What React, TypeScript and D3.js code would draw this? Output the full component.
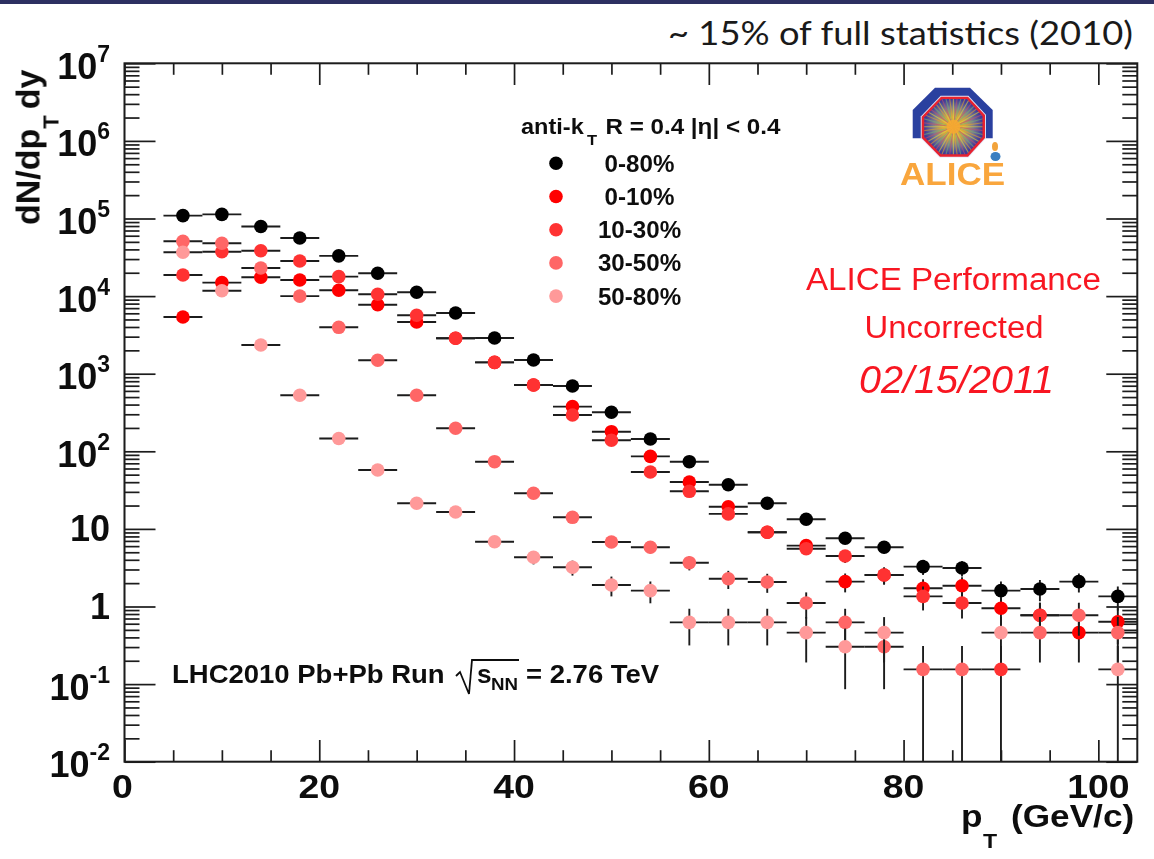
import React, { useEffect, useRef } from "react";
import * as d3 from "d3";

// bin centres in GeV/c, bins are 4 wide
const ptBins = [6, 10, 14, 18, 22, 26, 30, 34, 38, 42, 46, 50, 54, 58, 62, 66, 70, 74, 78, 82, 86, 90, 94, 98, 102];
const binHalfWidth = 2;

const centrality = ["0-80%", "0-10%", "10-30%", "30-50%", "50-80%"];
const seriesColors = ["#000000", "#ff0000", "#ff3333", "#ff6666", "#ff9999"];

const yields0080 = [109000, 113000, 79000, 56000, 33000, 19700, 11200, 6050, 2885, 1500, 694, 318, 144, 73.5, 37, 21.4, 13.3, 7.57, 5.79, 3.26, 3.13, 1.6, 1.68, 2.09, 1.35];
const yields0010 = [5380, 14900, 17500, 16100, 11880, 7750, 4640, 2860, 1400, 715, 376, 179, 86, 40.2, 19.3, 9.04, 6.08, 2.09, 2.55, 1.72, 1.85, 0.95, 0.77, 0.46, 0.637];
const yields1030 = [18700, 37300, 38400, 28300, 17800, 10550, 5660, 2860, 1400, 715, 294, 139, 54, 30.5, 15.6, 9.04, 5.56, 4.47, 2.55, 1.35, 1.11, 0.155, 0.77, null, null];
const yields3050 = [50800, 47900, 23000, 10000, 3960, 1490, 527, 198, 73.5, 28.8, 14.1, 6.78, 5.79, 3.67, 2.28, 2.07, 1.11, 0.625, 0.303, 0.155, 0.155, null, 0.46, 0.77, 0.46];
const yields5080 = [36700, 11700, 2340, 527, 146, 57.4, 21.4, 16.5, 6.84, 4.31, 3.2, 1.89, 1.6, 0.625, 0.625, 0.625, 0.46, 0.303, 0.46, null, null, 0.46, null, null, 0.155];

// vertical error bars, only the ones that stick out of the marker
const errors0080 = [0, 0, 0, 0, 0, 0, 0, 0, 0, 0, 0, 0, 0, 3.4, 2.4, 1.8, 1.44, 1.08, 0.95, 0.71, 0.7, 0.5, 0.51, 0.57, 0.46];
const errors0010 = [0, 0, 0, 0, 0, 0, 0, 0, 0, 0, 0, 0, 0, 2.5, 1.7, 1.18, 0.97, 0.57, 0.63, 0.52, 0.54, 0.38, 0.35, 0.27, 0.31];
const errors1030 = [0, 0, 0, 0, 0, 0, 0, 0, 0, 0, 0, 0, 0, 2.2, 1.55, 1.18, 0.93, 0.83, 0.63, 0.46, 0.41, 0.155, 0.35, 0, 0];
const errors3050 = [0, 0, 0, 0, 0, 0, 0, 0, 0, 0, 1.5, 1, 0.95, 0.75, 0.6, 0.57, 0.41, 0.31, 0.217, 0.155, 0.155, 0, 0.27, 0.35, 0.27];
const errors5080 = [0, 0, 0, 0, 0, 0, 0, 0, 0, 0.82, 0.7, 0.54, 0.5, 0.31, 0.31, 0.31, 0.27, 0.217, 0.27, 0, 0, 0.27, 0, 0, 0.155];

const allYields = [yields0080, yields0010, yields1030, yields3050, yields5080];
const allErrors = [errors0080, errors0010, errors1030, errors3050, errors5080];

const yExponents = [-2, -1, 0, 1, 2, 3, 4, 5, 6, 7];
const xMajor = [0, 20, 40, 60, 80, 100];
const xMinor = [5, 10, 15, 25, 30, 35, 45, 50, 55, 65, 70, 75, 85, 90, 95];

const width = 1154;
const height = 859;
const frame = { left: 124.5, right: 1137.3, top: 63.3, bottom: 761.7 };
const ink = "#1c1c1c";
const helv = "'Liberation Sans', Arial, sans-serif";

export default function App() {
  const ref = useRef<SVGSVGElement | null>(null);

  useEffect(() => {
    const svg = d3.select(ref.current);
    svg.selectAll("*").remove();

    const defs = svg.append("defs");
    defs.append("filter").attr("id", "soft")
      .attr("filterUnits", "userSpaceOnUse").attr("x", 0).attr("y", 0).attr("width", width).attr("height", height)
      .append("feGaussianBlur").attr("stdDeviation", 0.5);
    defs.append("clipPath").attr("id", "plotArea").append("rect")
      .attr("x", frame.left).attr("y", frame.top)
      .attr("width", frame.right - frame.left).attr("height", frame.bottom - frame.top);

    // slide header
    svg.append("rect").attr("width", width).attr("height", 4).attr("fill", "#2d3061");
    svg.append("text").attr("x", 1133).attr("y", 45).attr("text-anchor", "end")
      .attr("font-family", "Lato, sans-serif").attr("font-size", 33).attr("fill", "#1a1a1a")
      .attr("textLength", 465).attr("lengthAdjust", "spacingAndGlyphs")
      .text("~ 15% of full statistics (2010)");

    const g = svg.append("g").attr("filter", "url(#soft)");

    const x = d3.scaleLinear().domain([0, 104]).range([frame.left, frame.right]);
    const y = d3.scaleLog().domain([1e-2, 1e7]).range([frame.bottom, frame.top]);

    const yMajor = yExponents.map((e) => Math.pow(10, e));
    const yMinor = yExponents.slice(0, -1).flatMap((e) => d3.range(2, 10).map((m) => m * Math.pow(10, e)));

    // ticks on all four sides, drawn inwards
    const drawAxis = (axis: any, tx: number, ty: number) => {
      const a = g.append("g").attr("transform", `translate(${tx},${ty})`).call(axis);
      a.select(".domain").remove();
      a.selectAll("line").attr("stroke", ink).attr("stroke-width", 1.7);
      a.selectAll("text").remove();
    };
    drawAxis(d3.axisLeft(y).tickValues(yMajor).tickSize(-31), frame.left, 0);
    drawAxis(d3.axisLeft(y).tickValues(yMinor).tickSize(-15), frame.left, 0);
    drawAxis(d3.axisRight(y).tickValues(yMajor).tickSize(-31), frame.right, 0);
    drawAxis(d3.axisRight(y).tickValues(yMinor).tickSize(-15), frame.right, 0);
    drawAxis(d3.axisBottom(x).tickValues(xMajor).tickSize(-21.7), 0, frame.bottom);
    drawAxis(d3.axisBottom(x).tickValues(xMinor).tickSize(-11.5), 0, frame.bottom);
    drawAxis(d3.axisTop(x).tickValues(xMajor).tickSize(-21.7), 0, frame.top);
    drawAxis(d3.axisTop(x).tickValues(xMinor).tickSize(-11.5), 0, frame.top);

    g.append("rect").attr("x", frame.left).attr("y", frame.top)
      .attr("width", frame.right - frame.left).attr("height", frame.bottom - frame.top)
      .attr("fill", "none").attr("stroke", ink).attr("stroke-width", 2);

    // the picture is a bit wider than tall, so most text needs a horizontal stretch
    const boldText = (px: number, py: number, size: number, anchor = "start", sx = 1) =>
      g.append("text").attr("transform", `translate(${px},${py}) scale(${sx},1)`).attr("text-anchor", anchor)
        .attr("font-family", helv).attr("font-weight", "bold").attr("font-size", size).attr("fill", "#111");

    // tick labels
    xMajor.forEach((v) => {
      boldText(x(v) - (v === 0 ? 2 : 0), 798, 34, "middle", 1.1).text(v);
    });
    yExponents.forEach((e) => {
      const py = y(Math.pow(10, e));
      if (e === 0) boldText(110, py + 12, 36, "end").text("1");
      else if (e === 1) boldText(110, py + 12, 36, "end").text("10");
      else {
        const t = boldText(110, py + 15.5, 36, "end");
        t.append("tspan").text("10");
        t.append("tspan").attr("dy", -17).attr("font-size", 23).text(e);
      }
    });

    // axis titles
    const yTitle = g.append("text").attr("transform", "translate(39.5,225) rotate(-90)")
      .attr("font-family", helv).attr("font-weight", "bold").attr("font-size", 34).attr("fill", "#111");
    yTitle.append("tspan").text("dN/dp");
    yTitle.append("tspan").attr("dy", 18.5).attr("font-size", 22).text("T");
    yTitle.append("tspan").attr("dy", -18.5).attr("dx", 6).text("dy");

    boldText(961, 827, 32, "start", 1.1).text("p");
    boldText(983, 848, 21, "start", 1.1).text("T");
    boldText(1011, 827, 32, "start", 1.1).text("(GeV/c)");

    // data, each series: bars first then its markers
    const plot = g.append("g").attr("clip-path", "url(#plotArea)");
    allYields.forEach((vals, s) => {
      const errs = allErrors[s];
      const series = plot.append("g");
      ptBins.forEach((pt, i) => {
        const v = vals[i];
        if (v == null) return;
        series.append("line")
          .attr("x1", x(pt - binHalfWidth)).attr("x2", x(pt + binHalfWidth))
          .attr("y1", y(v)).attr("y2", y(v))
          .attr("stroke", ink).attr("stroke-width", 1.9);
        if (errs[i] > 0) {
          const lo = v - errs[i] > 0.01 ? v - errs[i] : 0.01;
          series.append("line")
            .attr("x1", x(pt)).attr("x2", x(pt))
            .attr("y1", y(lo)).attr("y2", y(v + errs[i]))
            .attr("stroke", ink).attr("stroke-width", 1.9);
        }
      });
      series.selectAll("circle")
        .data(ptBins.map((pt, i) => ({ pt, v: vals[i] })).filter((d) => d.v != null))
        .enter().append("circle")
        .attr("cx", (d) => x(d.pt)).attr("cy", (d) => y(d.v as number))
        .attr("r", 6.8).attr("fill", seriesColors[s]);
    });

    // legend
    boldText(521, 134, 22, "start", 1.07).text("anti-k");
    boldText(587, 145, 15, "start", 1.1).text("T");
    boldText(605.5, 134, 22, "start", 1.1).text("R = 0.4 |η| < 0.4");
    centrality.forEach((label, i) => {
      const ly = 163.3 + i * 33.2;
      g.append("circle").attr("cx", 556).attr("cy", ly).attr("r", 6.8).attr("fill", seriesColors[i]);
      boldText(639.5, ly + 8.5, 23, "middle", 1.05).text(label);
    });

    // red performance label
    const redText = (cx: number, py: number, size: number, sx: number, label: string, italic = false) =>
      g.append("text").attr("transform", `translate(${cx},${py}) scale(${sx},1)`).attr("text-anchor", "middle")
        .attr("font-family", helv).attr("font-size", size).attr("fill", "#f81820")
        .attr("font-style", italic ? "italic" : "normal").text(label);
    redText(953.4, 289.5, 31, 1.07, "ALICE Performance");
    redText(954, 338, 31, 1.06, "Uncorrected");
    redText(956.5, 393, 38, 1.04, "02/15/2011", true);

    // run label
    boldText(172, 683, 25, "start", 1.1).text("LHC2010 Pb+Pb Run");
    boldText(477, 683, 25, "start", 1.05).text("s");
    boldText(491, 690, 17, "start", 1.1).text("NN");
    boldText(526, 683, 25, "start", 1.1).text("= 2.76 TeV");
    g.append("path").attr("d", "M456 676 L460 672 L469 694 L472 660 L519 660")
      .attr("fill", "none").attr("stroke", "#111").attr("stroke-width", 1.8);

    // ALICE logo
    const octagon = [[941, 96.7], [968, 96.7], [985, 115], [985, 138], [968, 156.7], [940, 156.7], [921.7, 138], [921.7, 116.7]];
    const octPoints = (inset: number) =>
      octagon.map(([a, b]) => [953.4 + (a - 953.4) * inset, 126.7 + (b - 126.7) * inset].join(",")).join(" ");
    const grad = defs.append("radialGradient").attr("id", "core");
    [["0%", "#ffb020"], ["35%", "#d8b040"], ["70%", "#7a7a90"], ["100%", "#3f3a98"]].forEach(([o, c]) =>
      grad.append("stop").attr("offset", o).attr("stop-color", c));
    defs.append("clipPath").attr("id", "logoClip").append("polygon").attr("points", octPoints(0.92));

    const logo = g.append("g");
    logo.append("path").attr("d", "M912.7 138.3 L912.7 110 L935 87.7 L970 87.7 L992.7 110 L992.7 138.3 Z").attr("fill", "#2c3f9f");
    logo.append("polygon").attr("points", octPoints(1.03)).attr("fill", "#dfe3f5");
    logo.append("polygon").attr("points", octPoints(1)).attr("fill", "#e8202f");
    logo.append("polygon").attr("points", octPoints(0.92)).attr("fill", "url(#core)");
    const rays = logo.append("g").attr("clip-path", "url(#logoClip)").attr("opacity", 0.6);
    d3.range(0, 360, 7.5).forEach((deg, i) => {
      const rad = (deg * Math.PI) / 180;
      rays.append("line").attr("x1", 953.4).attr("y1", 126.7)
        .attr("x2", 953.4 + 36 * Math.cos(rad)).attr("y2", 126.7 + 36 * Math.sin(rad))
        .attr("stroke", ["#e3d23a", "#c05070", "#7ab070", "#e0a030"][i % 4]).attr("stroke-width", 1.1);
    });
    logo.append("circle").attr("cx", 953.4).attr("cy", 126.7).attr("r", 7).attr("fill", "#f8a830").attr("opacity", 0.85);
    logo.append("ellipse").attr("cx", 995).attr("cy", 146.5).attr("rx", 3).attr("ry", 4.5).attr("fill", "#f2a33a");
    logo.append("ellipse").attr("cx", 995.5).attr("cy", 156.5).attr("rx", 5).attr("ry", 4.5).attr("fill", "#3a7fc0");
    logo.append("text").attr("transform", "translate(952.5,185) scale(1.13,1)").attr("text-anchor", "middle")
      .attr("font-family", helv).attr("font-weight", "bold").attr("font-size", 31)
      .attr("fill", "#f9a63c").text("ALICE");
  }, []);

  return <svg ref={ref} width={width} height={height} style={{ position: "absolute", left: 0, top: 0, background: "#fff" }} />;
}
